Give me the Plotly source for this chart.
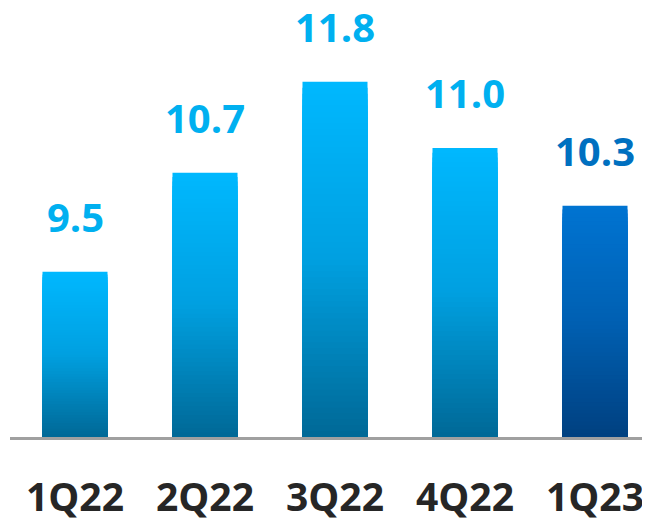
import plotly.graph_objects as go

categories = ["1Q22", "2Q22", "3Q22", "4Q22", "1Q23"]
values = [9.5, 10.7, 11.8, 11.0, 10.3]
label_texts = ["9.5", "10.7", "11.8", "11.0", "10.3"]

BASE = 7.5
N_SEG = 60

# gradient colour stops (top, middle, bottom) per bar
top_cols = [(0, 184, 255)] * 4 + [(0, 116, 210)]
mid_cols = [(0, 160, 224)] * 4 + [(0, 96, 178)]
bot_cols = [(0, 104, 150)] * 4 + [(0, 64, 128)]
label_cols = ["#00B0F0"] * 4 + ["#0070C0"]


def mix(c1, c2, t):
    return tuple(a + (b - a) * t for a, b in zip(c1, c2))


def grad(i, t):
    # t: 0 bottom -> 1 top
    if t < 0.5:
        c = mix(bot_cols[i], mid_cols[i], t / 0.5)
    else:
        c = mix(mid_cols[i], top_cols[i], (t - 0.5) / 0.5)
    return "rgb(%d,%d,%d)" % tuple(round(x) for x in c)


fig = go.Figure()
# overlapping bars: tallest (top colour) first, shorter darker ones drawn over it
for k in range(N_SEG - 1, -1, -1):
    t = (k + 0.5) / N_SEG
    heights = [(v - BASE) * (k + 1) / N_SEG for v in values]
    colors = [grad(i, t) for i in range(len(values))]
    fig.add_trace(go.Bar(
        x=categories, y=heights, base=BASE, width=0.5,
        marker=dict(color=colors, line=dict(width=0)),
        hoverinfo="skip", showlegend=False,
    ))

for i, (c, v) in enumerate(zip(categories, values)):
    fig.add_annotation(
        x=c, y=v, text=label_texts[i], showarrow=False,
        yanchor="bottom", yshift=26,
        font=dict(family="Open Sans", size=40, color=label_cols[i], weight="bold"),
    )

# page has an 8px body margin: figure is 642x516, drawn at (8, 8)
W, H = 642, 516
PX_PER_UNIT = 82.7
plot_h = 429.5
fig.update_layout(
    width=W, height=H,
    margin=dict(l=2, r=0, t=0, b=H - plot_h, autoexpand=False),
    paper_bgcolor="white", plot_bgcolor="white",
    barmode="overlay", bargap=0.5,
    xaxis=dict(
        range=[-0.5, -0.5 + (W - 2) / 130],
        showline=True, linecolor="#a0a0a0", linewidth=3,
        showgrid=False, zeroline=False, ticks="",
        tickfont=dict(family="Open Sans", size=39, color="#262626", weight="bold"),
        ticklabelstandoff=24, automargin=False,
    ),
    yaxis=dict(
        range=[BASE, BASE + plot_h / PX_PER_UNIT],
        visible=False, showgrid=False, zeroline=False, automargin=False,
    ),
)

fig.write_html("out.html")
